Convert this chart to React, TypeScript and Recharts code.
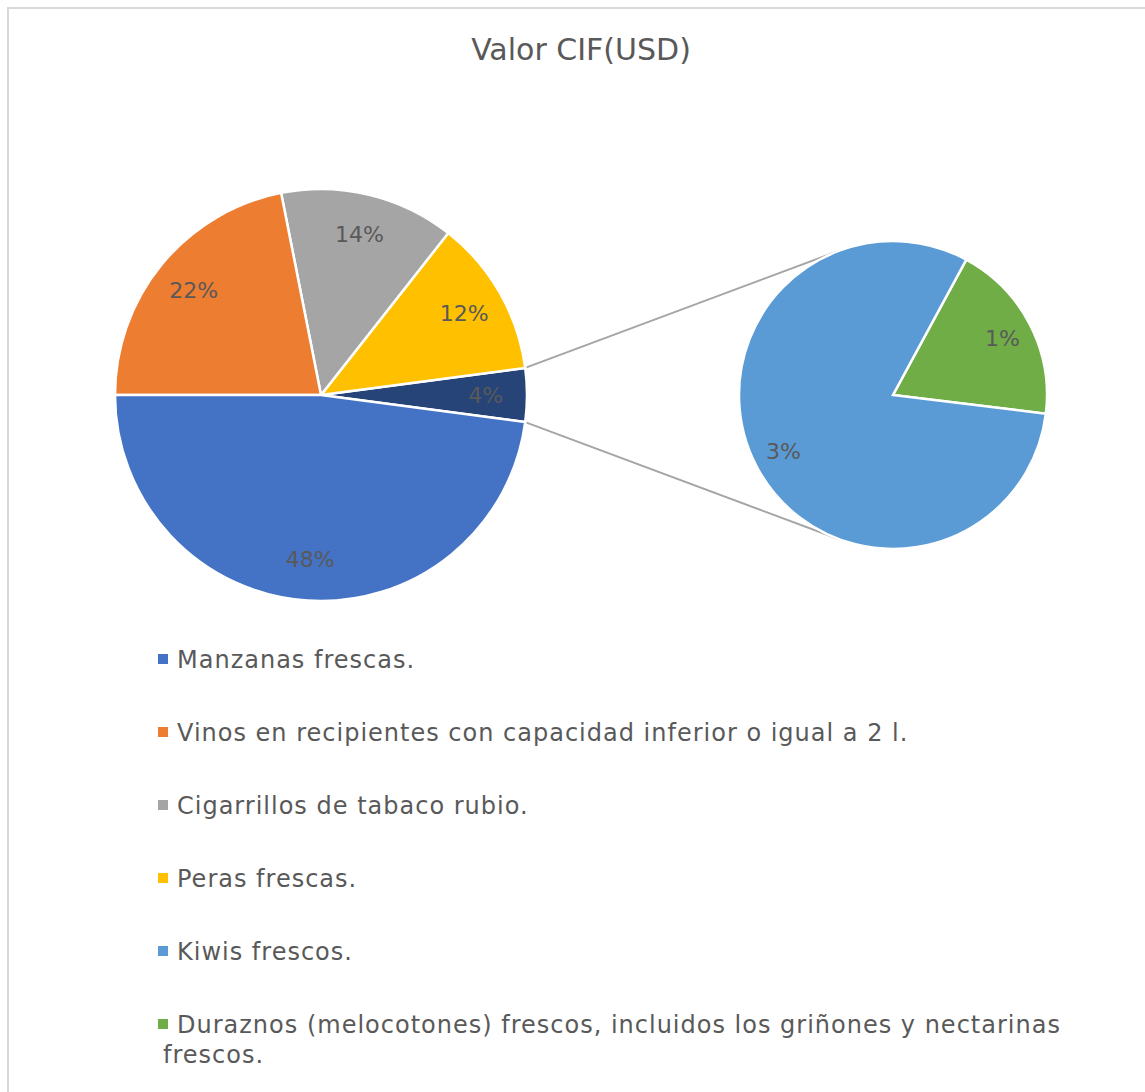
import { PieChart, Pie, Cell, Customized } from 'recharts';

// share of total CIF value (%), legend order
const categories = [
  'Manzanas frescas.',
  'Vinos en recipientes con capacidad inferior o igual a 2 l.',
  'Cigarrillos de tabaco rubio.',
  'Peras frescas.',
  'Kiwis frescos.',
  'Duraznos (melocotones) frescos, incluidos los griñones y nectarinas frescos.',
];
const shares = [47.9, 21.9, 13.7, 12.3, 3.4, 0.8];
const colors = ['#4472C4', '#ED7D31', '#A5A5A5', '#FFC000', '#5B9BD5', '#70AD47'];
const otherColor = '#264478';
const secondPieCount = 2; // last two categories go to the small pie

const FONT = '"DejaVu Sans", sans-serif';
const TEXT = '#595959';
const W = 1145;
const H = 1092;

const MAIN = { cx: 321, cy: 395, r: 206 };
const SMALL = { cx: 893, cy: 395, r: 154 };

const firstCount = categories.length - secondPieCount;
const otherValue = shares.slice(firstCount).reduce((a, b) => a + b, 0);

// main pie: "other" slice centred on the right, then remaining slices counter-clockwise
const mainData = [
  { name: 'Otros', value: otherValue, fill: otherColor },
  ...categories
    .slice(0, firstCount)
    .map((name, i) => ({ name, value: shares[i], fill: colors[i] }))
    .reverse(),
];
const otherHalf = (otherValue / 100) * 180;

const smallData = categories
  .slice(firstCount)
  .map((name, i) => ({ name, value: shares[firstCount + i], fill: colors[firstCount + i] }))
  .reverse();
const smallStart = -7;

const RAD = Math.PI / 180;

const renderLabel = (props: any) => {
  const { cx, cy, midAngle, outerRadius, value } = props;
  const r = outerRadius * 0.8;
  const x = cx + r * Math.cos(-midAngle * RAD);
  const y = cy + r * Math.sin(-midAngle * RAD);
  return (
    <text x={x} y={y} fill={TEXT} fontSize={22} fontFamily={FONT} textAnchor="middle" dominantBaseline="central">
      {Math.round(value)}%
    </text>
  );
};

// lines from the edges of the "other" slice, tangent to the small pie
const Connectors = () => {
  const lines = [1, -1].map((s) => {
    const a = s * otherHalf * RAD;
    const px = MAIN.cx + MAIN.r * Math.cos(a);
    const py = MAIN.cy - MAIN.r * Math.sin(a);
    const dx = px - SMALL.cx;
    const dy = py - SMALL.cy;
    const d = Math.hypot(dx, dy);
    const base = Math.atan2(dy, dx);
    const off = Math.acos(SMALL.r / d);
    const t = base + s * off;
    return { x1: px, y1: py, x2: SMALL.cx + SMALL.r * Math.cos(t), y2: SMALL.cy + SMALL.r * Math.sin(t) };
  });
  return (
    <g>
      {lines.map((l, i) => (
        <line key={i} {...l} stroke="#A5A5A5" strokeWidth={2} />
      ))}
    </g>
  );
};

const legendTops = [645, 718, 791, 864, 937, 1010];

export default function App() {
  return (
    <div style={{ position: 'absolute', left: 0, top: 0, width: W, height: H, overflow: 'hidden', background: '#fff', fontFamily: FONT }}>
      <div
        style={{
          position: 'absolute',
          left: 7,
          top: 7,
          width: 1170,
          height: 1120,
          border: '2px solid #D9D9D9',
          boxSizing: 'border-box',
        }}
      />
      <div style={{ position: 'absolute', left: 0, width: 1162, top: 32, textAlign: 'center', fontSize: 30, color: TEXT }}>
        Valor CIF(USD)
      </div>
      <div style={{ position: 'absolute', left: 0, top: 0 }}>
        <PieChart width={W} height={H} margin={{ top: 0, right: 0, bottom: 0, left: 0 }}>
          <Customized component={Connectors} />
          <Pie
            data={mainData}
            dataKey="value"
            nameKey="name"
            cx={MAIN.cx}
            cy={MAIN.cy}
            outerRadius={MAIN.r}
            startAngle={-otherHalf}
            endAngle={360 - otherHalf}
            stroke="#fff"
            strokeWidth={2.5}
            label={renderLabel}
            labelLine={false}
            isAnimationActive={false}
          >
            {mainData.map((d, i) => (
              <Cell key={i} fill={d.fill} />
            ))}
          </Pie>
          <Pie
            data={smallData}
            dataKey="value"
            nameKey="name"
            cx={SMALL.cx}
            cy={SMALL.cy}
            outerRadius={SMALL.r}
            startAngle={smallStart}
            endAngle={360 + smallStart}
            stroke="#fff"
            strokeWidth={2.5}
            label={renderLabel}
            labelLine={false}
            isAnimationActive={false}
          >
            {smallData.map((d, i) => (
              <Cell key={i} fill={d.fill} />
            ))}
          </Pie>
        </PieChart>
      </div>
      {categories.map((name, i) => (
        <div
          key={name}
          style={{
            position: 'absolute',
            left: 158,
            top: legendTops[i],
            fontSize: 24,
            letterSpacing: 1,
            lineHeight: '30px',
            color: TEXT,
            whiteSpace: 'nowrap',
          }}
        >
          <span style={{ display: 'inline-block', width: 10, height: 10, background: colors[i], marginRight: 9, verticalAlign: 'middle', position: 'relative', top: -2 }} />
          {i === categories.length - 1 ? (
            <>
              {name.replace(/ frescos\.$/, '')}
              <br />
              <span style={{ marginLeft: 5 }}>frescos.</span>
            </>
          ) : (
            name
          )}
        </div>
      ))}
    </div>
  );
}
